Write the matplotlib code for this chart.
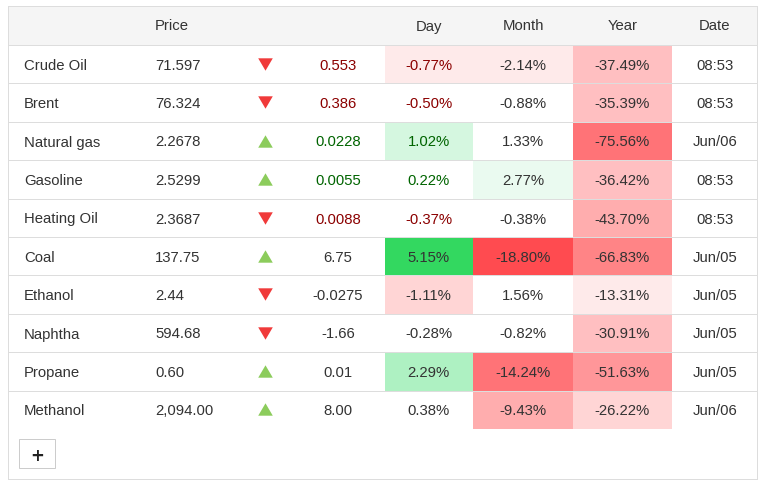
import matplotlib
matplotlib.use('Agg')
import matplotlib.pyplot as plt
from matplotlib.patches import Rectangle

plt.rcParams['font.family'] = ['Liberation Sans', 'DejaVu Sans']

names = ['Crude Oil', 'Brent', 'Natural gas', 'Gasoline', 'Heating Oil', 'Coal',
         'Ethanol', 'Naphtha', 'Propane', 'Methanol']
prices = ['71.597', '76.324', '2.2678', '2.5299', '2.3687', '137.75',
          '2.44', '594.68', '0.60', '2,094.00']
changes = ['0.553', '0.386', '0.0228', '0.0055', '0.0088', '6.75',
           '-0.0275', '-1.66', '0.01', '8.00']
direction = ['down', 'down', 'up', 'up', 'down', 'up', 'down', 'down', 'up', 'up']
day = ['-0.77%', '-0.50%', '1.02%', '0.22%', '-0.37%', '5.15%',
       '-1.11%', '-0.28%', '2.29%', '0.38%']
month = ['-2.14%', '-0.88%', '1.33%', '2.77%', '-0.38%', '-18.80%',
         '1.56%', '-0.82%', '-14.24%', '-9.43%']
year = ['-37.49%', '-35.39%', '-75.56%', '-36.42%', '-43.70%', '-66.83%',
        '-13.31%', '-30.91%', '-51.63%', '-26.22%']
dates = ['08:53', '08:53', 'Jun/06', '08:53', '08:53', 'Jun/05',
         'Jun/05', 'Jun/05', 'Jun/05', 'Jun/06']
headers = ['Price', 'Day', 'Month', 'Year', 'Date']

day_bg = ['#feeaea', 'white', '#d5f7e0', 'white', 'white', '#33d860',
          '#ffd5d5', 'white', '#aef1c2', 'white']
month_bg = ['#feeaea', 'white', 'white', '#eafaf0', 'white', '#ff4b50',
            'white', 'white', '#ff7377', '#ffadae']
year_bg = ['#ffbfc1', '#ffbfc1', '#ff7377', '#ffbfc1', '#ffadae', '#ff8486',
           '#feeaea', '#ffbfc1', '#ff9699', '#ffd5d5']

dark = '#333333'
red_txt = '#8b0000'
green_txt = '#006400'
line_col = '#dddddd'

# column edges in pixels
day_x = (385, 473)
month_x = (473, 573)
year_x = (573, 672)
row_edges = [45.5, 83.5, 122.5, 160.5, 199.5, 237.5, 275.5, 314.5, 352.5, 391.5, 429]

fig = plt.figure(figsize=(7.66, 4.87), dpi=100)
ax = fig.add_axes([0, 0, 1, 1])
ax.set_xlim(0, 766)
ax.set_ylim(487, 0)
ax.axis('off')

fs = 10.75
lw = 0.72  # one pixel at this dpi

# header band and outer frame
ax.add_patch(Rectangle((8, 6), 750, 39.5, fc='#f5f5f5', ec='none', zorder=0, snap=False))
for xs, ys in [([8.5, 8.5], [6, 480]), ([757.5, 757.5], [6, 480]),
               ([8, 758], [6.5, 6.5]), ([8, 758], [479.5, 479.5])]:
    ax.plot(xs, ys, color=line_col, lw=lw, zorder=4, solid_capstyle='butt', snap=False)

for label, x in zip(headers, [172, 428.7, 523, 622.3, 714.7]):
    ax.text(x, 26.5, label, ha='center', va='center', fontsize=fs, color=dark)

# y axis runs downwards here, so the marker vertices are flipped
up_marker = [(-1, -0.85), (1, -0.85), (0, 0.85)]
down_marker = [(-1, 0.85), (1, 0.85), (0, -0.85)]

for i in range(len(names)):
    top, bot = row_edges[i], row_edges[i + 1]
    y = (top + bot) / 2 + 1.0

    for bg, (x0, x1) in zip([day_bg[i], month_bg[i], year_bg[i]], [day_x, month_x, year_x]):
        ax.add_patch(Rectangle((x0, top), x1 - x0, bot - top, fc=bg, ec='none', zorder=1, snap=False))

    ax.text(24, y, names[i], ha='left', va='center', fontsize=fs, color=dark, zorder=3)
    ax.text(155, y, prices[i], ha='left', va='center', fontsize=fs, color=dark, zorder=3)

    if direction[i] == 'up':
        ax.plot([265], [y - 2], marker=up_marker, ms=10.5, color='#8ccc5c', mew=0, ls='none', zorder=3)
    else:
        ax.plot([265], [y - 2], marker=down_marker, ms=10.5, color='#f03a3a', mew=0, ls='none', zorder=3)

    # small moves are tinted, the rest stay dark
    chg_col = dark
    day_col = dark
    if i in (0, 1, 4):
        chg_col = red_txt
        day_col = red_txt
    elif i in (2, 3):
        chg_col = green_txt
        day_col = green_txt
    ax.text(338, y, changes[i], ha='center', va='center', fontsize=fs, color=chg_col, zorder=3)
    ax.text(428.7, y, day[i], ha='center', va='center', fontsize=fs, color=day_col, zorder=3)
    ax.text(523, y, month[i], ha='center', va='center', fontsize=fs, color=dark, zorder=3)
    ax.text(622.3, y, year[i], ha='center', va='center', fontsize=fs, color=dark, zorder=3)
    ax.text(714.7, y, dates[i], ha='center', va='center', fontsize=fs, color=dark, zorder=3)

# row separators
for y in row_edges[:-1]:
    ax.plot([8, 758], [y, y], color=line_col, lw=lw, zorder=2, solid_capstyle='butt', snap=False)

# expand button
ax.add_patch(Rectangle((19.5, 439.5), 36, 29, fc='white', ec='#cccccc', lw=lw, zorder=3, snap=False))
ax.text(37, 454, '+', ha='center', va='center_baseline', fontsize=12, fontweight='bold',
        family=['DejaVu Sans'], color='#222222', zorder=4)

fig.savefig('out.png', dpi=100)
